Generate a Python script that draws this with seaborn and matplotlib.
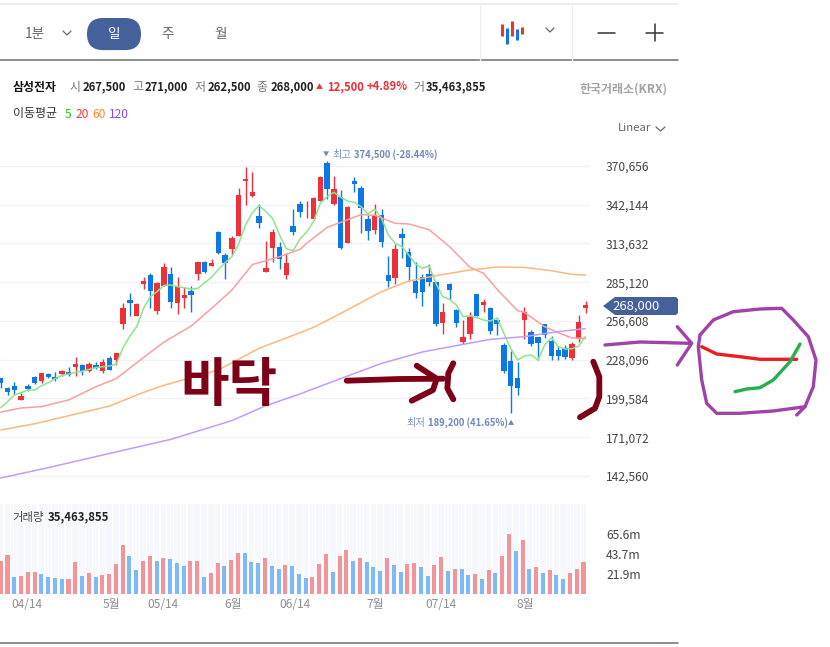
import matplotlib
matplotlib.use("Agg")
import matplotlib.pyplot as plt
from matplotlib.patches import FancyBboxPatch, Polygon
import numpy as np
import pandas as pd
import seaborn as sns

# ---------- data (prices in thousand won, volume in millions) ----------
highs = [214.7,208.3,211.5,203.4,210.2,216.1,218.3,218.3,219.1,220.6,222.5,229.9,225.0,226.2,226.2,228.4,230.8,233.0,270.1,277.0,270.1,288.7,291.7,285.3,299.5,296.6,288.7,281.6,282.4,300.0,300.5,302.0,322.6,306.4,319.2,354.5,369.7,366.0,342.7,315.5,324.0,314.7,306.6,339.0,344.9,344.9,347.9,363.3,374.5,363.3,353.0,341.2,362.3,356.0,334.6,342.7,339.0,304.2,313.3,325.0,310.3,300.0,291.2,298.3,285.3,269.8,284.6,265.4,257.3,263.2,276.5,272.8,266.9,258.8,240.4,234.5,226.4,267.2,250.0,244.8,254.4,245.6,238.2,238.9,241.1,261.0,271.0]
body_hi = [214.7,207.3,208.8,201.4,208.5,215.4,218.3,217.6,215.4,219.8,218.8,225.0,224.2,225.0,224.2,226.4,229.4,233.0,266.2,272.1,269.1,286.0,290.5,284.6,296.3,291.2,281.6,275.7,278.7,300.0,300.0,299.3,322.1,305.2,317.7,349.3,360.9,351.5,333.9,295.6,322.1,311.1,299.3,326.5,343.0,343.7,347.1,362.6,372.9,353.7,347.9,340.5,359.6,354.5,331.7,334.6,334.6,290.5,309.6,320.6,307.4,286.0,289.0,291.2,285.3,263.2,283.8,264.7,244.8,259.5,276.5,270.6,266.2,257.3,238.9,227.2,214.7,263.2,248.5,244.8,254.4,241.9,235.3,236.7,239.7,255.9,268.4]
body_lo = [210.7,204.3,205.8,198.5,206.3,210.7,212.2,215.4,213.9,217.6,216.9,222.7,219.8,219.8,222.0,219.8,220.6,227.9,254.4,269.8,260.3,283.8,278.7,263.9,282.4,270.6,269.8,273.5,275.7,291.2,292.7,297.1,306.6,299.3,309.6,319.2,359.9,348.6,328.7,292.7,310.3,302.2,290.5,322.1,336.8,343.2,331.7,344.9,353.7,342.7,310.3,314.0,357.4,339.8,322.8,323.6,314.7,286.0,288.2,317.7,296.3,277.2,277.9,285.3,254.4,255.1,279.4,255.1,241.1,247.0,260.3,268.4,249.2,254.4,219.8,208.8,207.3,257.3,239.7,240.4,246.3,230.8,230.8,230.1,229.4,243.4,266.2]
lows = [207.0,202.1,202.9,198.5,205.3,210.0,210.7,214.9,212.7,216.1,215.9,216.1,216.6,218.8,221.0,218.6,220.6,224.2,251.0,260.0,260.3,279.9,266.2,261.8,282.4,266.2,261.8,266.2,263.2,286.8,291.7,297.1,305.9,287.5,305.2,319.2,342.0,347.9,325.0,292.7,300.0,294.9,287.5,319.9,333.4,332.4,331.7,344.9,346.4,342.0,309.8,314.0,351.8,321.4,316.2,320.6,311.3,281.6,283.8,303.0,286.0,273.5,267.6,282.4,252.9,247.0,272.8,252.2,239.7,243.4,260.3,263.2,247.0,246.3,218.3,189.2,202.1,243.4,238.2,227.9,244.1,227.9,227.9,228.6,227.9,241.1,262.5]
candle_up = [0,0,0,1,0,0,1,0,0,1,0,1,0,1,0,1,0,1,1,0,1,1,0,1,1,0,1,1,0,1,0,1,0,0,1,1,1,1,0,1,1,0,1,0,0,1,1,1,0,1,0,1,0,0,0,1,0,0,1,0,0,0,0,0,0,1,0,0,1,1,0,1,0,0,0,0,0,1,0,0,0,0,0,0,1,1,1]

ma5 = [192.8,197.2,202.1,203.9,205.8,205.8,209.0,211.2,214.2,216.6,217.6,218.8,219.6,221.0,222.3,223.0,223.5,225.0,237.0,245.6,252.4,265.9,274.5,278.2,282.8,283.1,281.9,281.1,280.1,280.6,284.8,288.7,294.6,299.5,303.9,313.3,327.2,336.3,341.5,337.1,331.9,319.9,309.8,308.4,316.9,322.1,329.7,343.2,348.1,351.3,347.6,344.9,343.9,340.7,335.3,339.0,332.2,319.9,313.8,311.3,305.2,298.5,295.4,297.1,284.3,274.5,272.5,268.4,259.8,260.5,259.1,257.3,256.6,258.8,247.5,236.5,227.9,230.8,231.6,227.9,238.9,244.3,237.7,236.0,236.2,238.2,245.1]
ma20_idx = [0,3,6,10,14,17,20,24,28,31,34,37,39,41,44,45,48,50,53,55,58,60,63,66,69,71,73,76,77,80,82,84,86]
ma20 = [189.6,192.6,193.6,198.5,208.3,214.2,225.9,241.1,252.9,265.9,279.4,298.1,301.0,303.9,309.3,313.8,325.5,329.2,334.9,334.4,328.5,328.0,323.8,311.3,296.1,291.7,279.9,264.2,263.0,252.4,248.0,244.1,243.8]
ma60_idx = [0,5,10,16,21,24,32,38,44,46,50,56,60,64,69,73,77,81,84,86]
ma60 = [176.4,181.0,186.9,194.0,204.1,209.3,220.6,236.5,248.0,251.9,262.2,278.2,286.0,290.0,294.1,296.3,296.1,293.6,290.9,290.4]
ma120_idx = [0,7,15,25,34,39,44,48,51,56,62,67,72,77,82,86]
ma120 = [141.1,148.7,158.0,169.5,183.3,194.3,202.9,210.5,216.1,225.4,233.8,238.5,243.1,245.1,248.8,251.0]

volume = [36.0,42.2,18.2,19.3,23.7,23.7,21.5,18.2,17.1,16.0,16.0,34.6,19.3,22.6,18.2,20.4,21.5,32.4,53.1,41.1,25.8,35.7,41.1,35.7,38.9,37.9,33.5,30.2,35.7,35.7,18.2,22.6,33.5,30.2,36.8,44.4,44.4,34.6,33.5,38.9,30.2,26.9,31.3,30.2,21.5,17.1,18.2,32.4,43.3,23.7,41.1,47.7,35.7,38.9,34.6,29.1,24.8,38.9,31.3,23.7,32.4,33.5,29.1,19.3,31.3,40.0,24.8,26.9,26.9,20.4,21.5,16.0,25.8,22.6,41.1,65.2,46.6,58.6,26.9,29.1,22.6,25.8,20.4,16.0,22.6,26.9,35.46]
volume_up = [1,1,0,1,1,1,0,0,0,0,1,1,0,1,0,1,1,1,1,0,0,1,1,0,1,0,0,0,1,1,0,1,1,0,1,1,0,0,0,1,0,0,1,0,0,0,1,1,1,0,1,1,0,1,0,0,0,1,0,0,1,1,0,0,1,1,0,1,0,0,1,0,1,0,1,1,0,1,0,1,0,1,0,0,1,1,1]

price_ticks = [370.656,342.144,313.632,285.120,256.608,228.096,199.584,171.072,142.560]
price_labels = ["370,656","342,144","313,632","285,120","256,608","228,096","199,584","171,072","142,560"]
volume_ticks = [65.6,43.7,21.9]
volume_labels = ["65.6m","43.7m","21.9m"]
date_ticks = [3.9,16.4,24,34.3,43.4,55.3,65,77.4]
date_labels = ["04/14","5월","05/14","6월","06/14","7월","07/14","8월"]

# ---------- style ----------
sns.set_theme(style="white")
plt.rcParams["font.family"] = ["Noto Sans CJK KR", "DejaVu Sans"]
RED, BLUE = "#ee3139", "#0c78e8"
NAVY = "#46609c"
W, H = 830, 647
fig = plt.figure(figsize=(8.3, 6.47), dpi=100, facecolor="white")

def axes_px(x0, y0, x1, y1, **kw):
    return fig.add_axes([x0 / W, 1 - y1 / H, (x1 - x0) / W, (y1 - y0) / H], **kw)

x = np.arange(len(highs))
xlim = (-0.103, 86.66)

# ---------- price panel ----------
ax = axes_px(0, 150, 590, 490)
colors = [RED if u else BLUE for u in candle_up]
ax.vlines(x, lows, highs, color=colors, lw=1.0, zorder=2)
ax.bar(x, np.array(body_hi) - np.array(body_lo), bottom=body_lo, width=0.8, color=colors, zorder=3, lw=0)
line_kw = dict(ax=ax, legend=False, zorder=4, lw=1.1, errorbar=None)
sns.lineplot(x=x, y=ma5, color="#8ee48c", **line_kw)
sns.lineplot(x=ma20_idx, y=ma20, color="#fb9ea1", **line_kw)
sns.lineplot(x=ma60_idx, y=ma60, color="#fdb77f", **line_kw)
sns.lineplot(x=ma120_idx, y=ma120, color="#c39cf6", **line_kw)
ax.set_xlim(*xlim)
ax.set_ylim(370.656 - (490 - 166) * 0.7358, 370.656 + (166 - 150) * 0.7358)
ax.set_yticks(price_ticks, price_labels)
ax.yaxis.tick_right()
ax.tick_params(axis="y", length=0, pad=11.5, labelsize=8.7, labelcolor="#444444")
ax.set_xticks([])
ax.set_xlabel(""); ax.set_ylabel("")
ax.grid(axis="y", color="#f1f3f8", lw=1)
ax.set_axisbelow(True)
sns.despine(ax=ax, left=True, bottom=True, right=True, top=True)

# ---------- volume panel ----------
vax = axes_px(0, 504, 588, 594)
vmax = 98.3
vax.bar(x, vmax, width=0.82, color="#f6f8fd", lw=0, zorder=0)
vol_df = pd.DataFrame({"idx": x, "vol": volume, "dir": ["up" if v else "down" for v in volume_up]})
sns.barplot(data=vol_df, x="idx", y="vol", hue="dir", native_scale=True, dodge=False,
            palette={"up": "#f39498", "down": "#7fb9f7"}, width=0.6, legend=False,
            saturation=1, ax=vax, zorder=2, linewidth=0)
vax.set_xlim(*xlim)
vax.set_ylim(0, vmax)
vax.set_yticks(volume_ticks, volume_labels)
vax.yaxis.tick_right()
vax.tick_params(axis="y", length=0, pad=13, labelsize=8.7, labelcolor="#444444")
vax.set_xticks(date_ticks, date_labels)
vax.tick_params(axis="x", length=0, pad=3, labelsize=8.6, labelcolor="#8f8f8f")
vax.set_xlabel(""); vax.set_ylabel("")
sns.despine(ax=vax, left=True, bottom=True, right=True, top=True)

# ---------- page furniture, in pixel coordinates ----------
ov = fig.add_axes([0, 0, 1, 1], zorder=10)
ov.set_xlim(0, W); ov.set_ylim(H, 0); ov.axis("off"); ov.patch.set_alpha(0)

def t(px, py, s, color="#333333", size=8.6, weight="normal", ha="left", **kw):
    ov.text(px, py, s, color=color, fontsize=size, fontweight=weight, ha=ha, va="center", **kw)

def stroke(pts, color, lw):
    a = np.array(pts)
    ov.plot(a[:, 0], a[:, 1], color=color, lw=lw, solid_capstyle="round", solid_joinstyle="round")

for yy, c in ((4, "#e8e8e8"), (60, "#6b6f76"), (643, "#6b6f76")):
    ov.plot([0, 678], [yy, yy], color=c, lw=1.1)
for xx in (480, 572):
    ov.plot([xx, xx], [5, 60], color="#eeeeee", lw=1)

t(25, 34, "1분", "#666666", 9.8)
stroke([(63, 31), (67, 35), (71, 31)], "#666666", 0.9)
ov.add_patch(FancyBboxPatch((87 + 16, 18 + 16), 54 - 32, 0.1, boxstyle="round,pad=16", color=NAVY, lw=0))
t(114, 34, "일", "white", 9.8, ha="center")
t(168, 34, "주", "#666666", 9.8, ha="center")
t(221, 34, "월", "#666666", 9.8, ha="center")
for ix0, iy0, iy1, c in ((502, 24, 36, RED), (507, 28, 44, BLUE), (512, 21, 36, RED), (517, 29, 40, BLUE), (522, 27, 34, RED)):
    ov.plot([ix0, ix0], [iy0, iy1], color=c, lw=2.2, solid_capstyle="butt")
stroke([(546, 28), (550, 32), (554, 28)], "#666666", 0.9)
ov.plot([598, 615], [33, 33], color="#333333", lw=1.1)
ov.plot([646, 663], [33, 33], color="#333333", lw=1.1)
ov.plot([654.5, 654.5], [24, 41], color="#333333", lw=1.1)

# quote row
t(13, 87, "삼성전자", "#111111", 8.6, "bold")
for px, s in ((70, "시"), (132, "고"), (195, "저"), (256, "종"), (413, "거")):
    t(px, 87, s, "#777777", 8.6)
for px, s in ((83, "267,500"), (145, "271,000"), (208, "262,500"), (271, "268,000"), (426, "35,463,855")):
    t(px, 87, s, "#222222", 8.1, "bold")
t(316, 87, "▲", RED, 5)
t(327, 87, "12,500", RED, 8.1, "bold")
t(367, 87, "+4.89%", RED, 8.1, "bold")
t(667, 89, "한국거래소(KRX)", "#a3a3a3", 8.6, "bold", ha="right")
t(13, 114, "이동평균", "#333333", 8.6)
t(65, 114, "5", "#22c322", 8.6)
t(76, 114, "20", "#f5343f", 8.6)
t(92, 114, "60", "#f98a2c", 8.6)
t(109, 114, "120", "#8c4bf0", 8.6)
t(618, 128, "Linear", "#666666", 8.2)
stroke([(656, 127), (660.5, 131), (665, 127)], "#666666", 0.9)

# extreme labels
t(323, 155, "▼", "#7088b8", 4.5)
t(332, 155, "최고", "#7f93bd", 7.4)
t(354, 155, "374,500 (-28.44%)", "#7088b8", 6.8, "bold")
t(406, 423, "최저", "#7f93bd", 7.4)
t(428, 423, "189,200 (41.65%)", "#7088b8", 6.8, "bold")
t(508, 423, "▲", "#7088b8", 4.5)

# volume title
t(12, 517, "거래량", "#444444", 8.2)
t(48, 517, "35,463,855", "#222222", 8.2, "bold")

# last price tag
ov.add_patch(Polygon([(603, 306), (615, 297), (676, 297), (678, 299), (678, 313), (676, 315), (615, 315)], closed=True, color=NAVY, lw=0))
t(636, 306, "268,000", "white", 9.4, ha="center")

# handwriting
INK = "#7d0018"
t(229, 385, "바닥", INK, 38, "bold", ha="center")
stroke([(346.7, 380.7), (400, 379), (443, 378.7)], INK, 4.2)
stroke([(416.7, 365.7), (436.7, 378.7), (433, 390), (411.7, 400.7)], INK, 4.2)
stroke([(453.3, 363.3), (448.3, 373.3), (447.3, 388.3), (453.3, 399.3)], INK, 4.2)
stroke([(593.3, 361.7), (599.3, 376.7), (599.3, 396.7), (595, 408.3), (580, 417.3)], INK, 4.2)

PURPLE = "#a043a8"
stroke([(605, 345), (640, 342), (690, 343.3)], PURPLE, 2.4)
stroke([(677.3, 326.7), (691.7, 343.3), (677.3, 365)], PURPLE, 2.4)
stroke([(700, 335), (713.3, 320), (733.3, 311.7), (760, 309), (781.7, 308.3), (793.3, 320), (808.3, 336.7),
        (816, 360), (813.3, 386.7), (805, 406.7), (796.7, 415)], PURPLE, 2.4)
stroke([(805, 406.7), (773.3, 411), (740, 413.3), (716.7, 413.3), (706.7, 403.3), (701.7, 380), (698.3, 346.7), (700, 335)], PURPLE, 2.4)
stroke([(701.7, 346.7), (716.7, 354), (740, 356.7), (760, 359.3), (796.7, 359.3)], "#ed1c24", 2.4)
stroke([(735, 391.7), (746.7, 389), (760, 387.7), (773.3, 380), (790, 361.7), (800, 344)], "#22b14c", 2.4)

fig.savefig("out.png", dpi=100)
